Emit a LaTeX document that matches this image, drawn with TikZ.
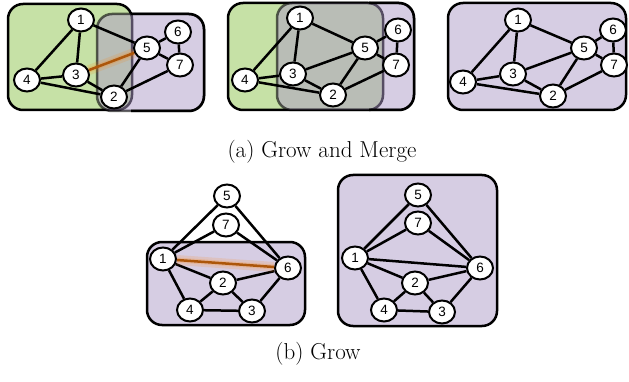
\documentclass[tikz,border=0pt]{standalone}
\usepackage{fontspec}
\newfontfamily\nodefont{Liberation Sans}
\usetikzlibrary{shapes.geometric}
\definecolor{grn}{RGB}{198,225,166}
\definecolor{purp}{RGB}{214,205,227}
\definecolor{purpbase}{RGB}{173,155,199}
\definecolor{orng}{RGB}{172,86,10}
\begin{document}
\begin{tikzpicture}[x=1pt,y=-1pt,
 vtx/.style={ellipse,draw,fill=white,line width=2pt,minimum width=26pt,minimum height=23pt,inner sep=0pt,font={\nodefont\fontsize{13.5}{13.5}\selectfont}},
 edge/.style={line width=2.5pt},
 hot/.style={line width=2.5pt,draw=orng},
 glow/.style={line width=10pt,draw=orange,draw opacity=0.15},
 glowb/.style={line width=5pt,draw=orange,draw opacity=0.2},
 gbox/.style={draw,line width=2.5pt,fill=grn,rounded corners=15pt},
 pbox/.style={draw,line width=2.5pt,fill=purp,rounded corners=15pt},
 pover/.style={draw,draw opacity=0.6,line width=2.5pt,fill=purpbase,fill opacity=0.5,rounded corners=15pt},
 pedge/.style={draw,line width=2.5pt,rounded corners=15pt},
 capt/.style={font=\fontsize{23}{27}\selectfont,anchor=base}]
\useasboundingbox (0,0) rectangle (629,382);
% ---------- panel 1 ----------
\draw[gbox] (8,4) rectangle (132,110);
\draw[pover] (97,14) rectangle (204,111);
\begin{scope}
\clip (131,0) rectangle (215,120);
\draw[pedge] (97,14) rectangle (204,111);
\end{scope}
\node[vtx] (a1) at (81,20) {1};
\node[vtx] (a5) at (147,48) {5};
\node[vtx] (a6) at (178,32) {6};
\node[vtx] (a7) at (180,65) {7};
\node[vtx] (a3) at (76,75) {3};
\node[vtx] (a4) at (27,80) {4};
\node[vtx] (a2) at (114,97) {2};
\draw[edge] (a1)--(a5) (a1)--(a3) (a1)--(a4) (a4)--(a3) (a4)--(a2) (a3)--(a2)
 (a5)--(a2) (a5)--(a6) (a5)--(a7) (a6)--(a7) (a7)--(a2);
\draw[glow] (a3)--(a5);
\draw[glowb] (a3)--(a5);
\draw[hot] (a3)--(a5);
% ---------- panel 2 ----------
\draw[gbox] (228,3) rectangle (383,110);
\draw[pover] (277,3) rectangle (414,110);
\begin{scope}
\clip (369,0) rectangle (425,120);
\draw[pedge] (277,3) rectangle (414,110);
\end{scope}
\node[vtx] (b1) at (300,18) {1};
\node[vtx] (b5) at (365,48) {5};
\node[vtx] (b6) at (398,30) {6};
\node[vtx] (b7) at (396,65) {7};
\node[vtx] (b3) at (293,74) {3};
\node[vtx] (b4) at (245,80) {4};
\node[vtx] (b2) at (333,95) {2};
\draw[edge] (b1)--(b5) (b1)--(b3) (b1)--(b4) (b4)--(b3) (b4)--(b2) (b3)--(b2)
 (b3)--(b5) (b5)--(b2) (b5)--(b6) (b5)--(b7) (b6)--(b7) (b7)--(b2);
% ---------- panel 3 ----------
\draw[pbox] (448,3) rectangle (626,110);
\node[vtx] (c1) at (518,20) {1};
\node[vtx] (c5) at (584,48) {5};
\node[vtx] (c6) at (613,30) {6};
\node[vtx] (c7) at (614,65) {7};
\node[vtx] (c3) at (513,74) {3};
\node[vtx] (c4) at (463,82) {4};
\node[vtx] (c2) at (553,96) {2};
\draw[edge] (c1)--(c5) (c1)--(c3) (c1)--(c4) (c4)--(c3) (c4)--(c2) (c3)--(c2)
 (c3)--(c5) (c5)--(c2) (c5)--(c6) (c5)--(c7) (c6)--(c7) (c7)--(c2);
\node[capt] (capa) at (322,158) {(a) Grow and Merge};
% ---------- panel 4 ----------
\draw[pbox] (147,242) rectangle (305,325);
\node[vtx] (d5) at (227,196) {5};
\node[vtx] (d7) at (226,225) {7};
\node[vtx] (d1) at (163,259) {1};
\node[vtx] (d6) at (288,268) {6};
\node[vtx] (d2) at (223,283) {2};
\node[vtx] (d4) at (190,310) {4};
\node[vtx] (d3) at (252,311) {3};
\draw[edge] (d5)--(d1) (d5)--(d6) (d7)--(d1) (d7)--(d6) (d1)--(d2) (d1)--(d4)
 (d2)--(d6) (d2)--(d4) (d2)--(d3) (d4)--(d3) (d6)--(d3);
\draw[glow] (d1)--(d6);
\draw[glowb] (d1)--(d6);
\draw[hot] (d1)--(d6);
% ---------- panel 5 ----------
\draw[pbox] (338,175) rectangle (497,326);
\node[vtx] (e5) at (418,195) {5};
\node[vtx] (e7) at (418,223) {7};
\node[vtx] (e1) at (355,258) {1};
\node[vtx] (e6) at (480,268) {6};
\node[vtx] (e2) at (415,283) {2};
\node[vtx] (e4) at (384,310) {4};
\node[vtx] (e3) at (442,312) {3};
\draw[edge] (e5)--(e1) (e5)--(e6) (e7)--(e1) (e7)--(e6) (e1)--(e2) (e1)--(e4)
 (e2)--(e6) (e2)--(e4) (e2)--(e3) (e4)--(e3) (e6)--(e3) (e1)--(e6);
\node[capt] (capb) at (318,359) {(b) Grow};
\end{tikzpicture}
\end{document}
